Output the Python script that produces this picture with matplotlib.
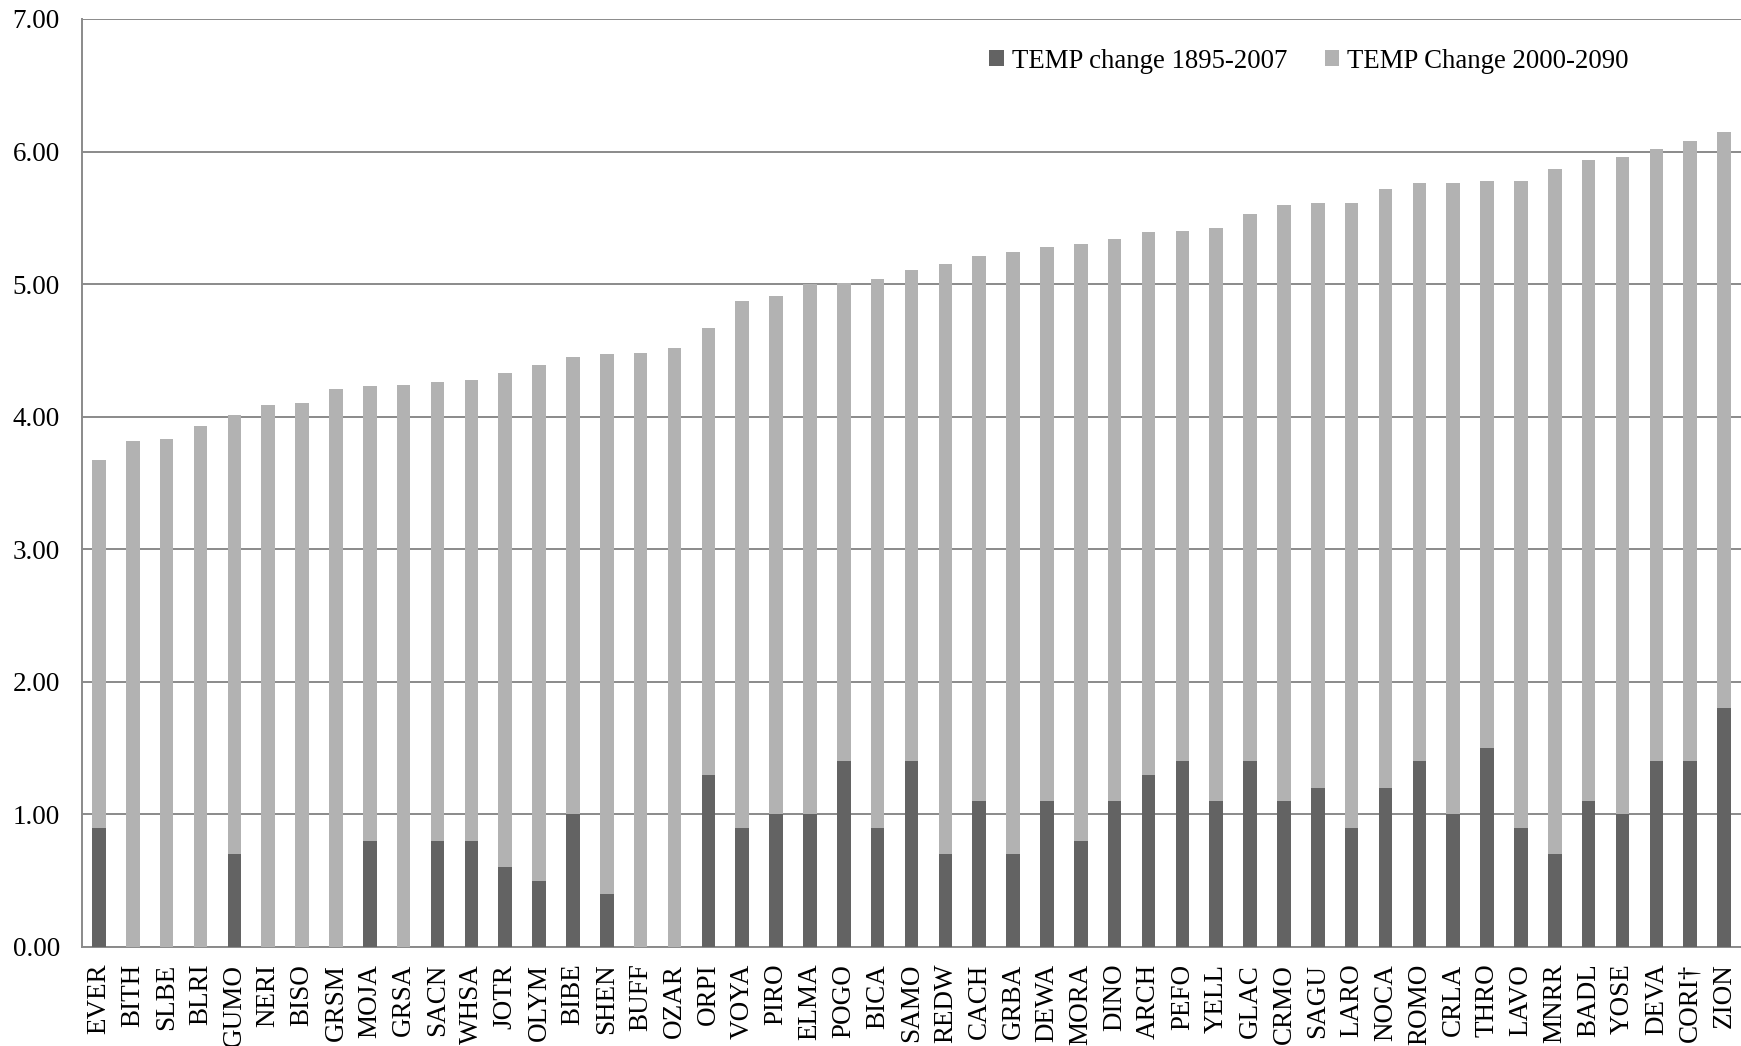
import matplotlib
matplotlib.use("Agg")
import matplotlib.pyplot as plt
import numpy as np

parks = ["EVER", "BITH", "SLBE", "BLRI", "GUMO", "NERI", "BISO", "GRSM", "MOJA", "GRSA",
         "SACN", "WHSA", "JOTR", "OLYM", "BIBE", "SHEN", "BUFF", "OZAR", "ORPI", "VOYA",
         "PIRO", "ELMA", "POGO", "BICA", "SAMO", "REDW", "CACH", "GRBA", "DEWA", "MORA",
         "DINO", "ARCH", "PEFO", "YELL", "GLAC", "CRMO", "SAGU", "LARO", "NOCA", "ROMO",
         "CRLA", "THRO", "LAVO", "MNRR", "BADL", "YOSE", "DEVA", "CORI\u2020", "ZION"]

temp_1895_2007 = [0.9, 0.0, 0.0, 0.0, 0.7, 0.0, 0.0, 0.0, 0.8, 0.0,
                  0.8, 0.8, 0.6, 0.5, 1.0, 0.4, 0.0, 0.0, 1.3, 0.9,
                  1.0, 1.0, 1.4, 0.9, 1.4, 0.7, 1.1, 0.7, 1.1, 0.8,
                  1.1, 1.3, 1.4, 1.1, 1.4, 1.1, 1.2, 0.9, 1.2, 1.4,
                  1.0, 1.5, 0.9, 0.7, 1.1, 1.0, 1.4, 1.4, 1.8]

temp_2000_2090 = [2.77, 3.82, 3.83, 3.93, 3.31, 4.09, 4.10, 4.21, 3.43, 4.24,
                  3.46, 3.48, 3.73, 3.89, 3.45, 4.07, 4.48, 4.52, 3.37, 3.97,
                  3.91, 4.00, 3.61, 4.14, 3.71, 4.45, 4.11, 4.54, 4.18, 4.50,
                  4.24, 4.09, 4.00, 4.32, 4.13, 4.50, 4.41, 4.71, 4.52, 4.36,
                  4.76, 4.28, 4.88, 5.17, 4.84, 4.96, 4.62, 4.68, 4.35]

yticks = [0, 1, 2, 3, 4, 5, 6, 7]
series_labels = ["TEMP change 1895-2007", "TEMP Change 2000-2090"]

plt.rcParams["font.family"] = ["Liberation Serif", "DejaVu Serif"]

fig = plt.figure(figsize=(17.41, 10.46), dpi=100)
ax = fig.add_axes([82 / 1741, 99 / 1046, 1 - 82 / 1741, (947 - 19) / 1046])

x = np.arange(len(parks))
dark = "#636363"
light = "#b2b2b2"
ax.bar(x, temp_1895_2007, width=0.4, color=dark, label=series_labels[0], zorder=3)
ax.bar(x, temp_2000_2090, width=0.4, bottom=temp_1895_2007, color=light,
       label=series_labels[1], zorder=3)

ax.set_xlim(-0.5, len(parks) - 0.5)
ax.set_ylim(0, 7)
ax.set_yticks(yticks)
ax.set_yticklabels([f"{v:.2f}" for v in yticks])
ax.set_xticks(x)
ax.set_xticklabels(parks, rotation=90)

ax.yaxis.grid(True, color="#8a8a8a", linewidth=1.4, zorder=0)
ax.set_axisbelow(True)
for s in ["top", "right"]:
    ax.spines[s].set_visible(False)
for s in ["left", "bottom"]:
    ax.spines[s].set_color("#8a8a8a")
    ax.spines[s].set_linewidth(1.4)

ax.tick_params(axis="y", length=0, pad=16, labelsize=19.5)
ax.tick_params(axis="x", length=0, pad=12, labelsize=19.5)

leg = ax.legend(ncol=2, frameon=False, loc="center left",
                bbox_to_anchor=((989 - 82) / (1741 - 82), (947 - 61) / (947 - 19)),
                fontsize=19.3, handlelength=0.55, handleheight=0.55,
                handletextpad=0.3, columnspacing=1.4, borderaxespad=0, borderpad=0)

fig.savefig("out.png", dpi=100, facecolor="white")
